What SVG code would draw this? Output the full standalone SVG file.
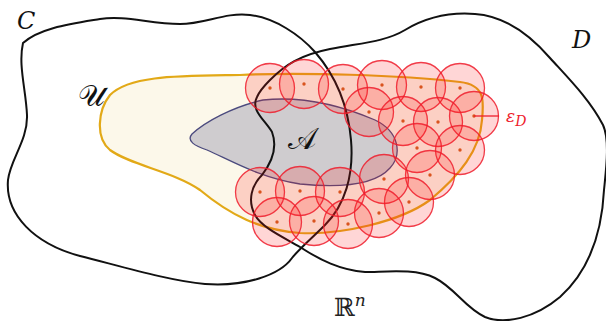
<svg xmlns="http://www.w3.org/2000/svg" width="606" height="321" viewBox="0 0 606 321">
<style>
.ball{fill:#ff1a1a;fill-opacity:0.18;stroke:#ee1c2c;stroke-opacity:0.85;stroke-width:1.3}
.dot{fill:#d9541e}
.set{fill:none;stroke:#111;stroke-width:2}
.lbl{font-family:"DejaVu Serif","Liberation Serif",serif;font-style:italic;fill:#111}
.scr{font-family:"DejaVu Serif","Noto Sans",serif;fill:#111}
</style>
<rect width="606" height="321" fill="#fff"/>
<g id="U">
<path d="M240,75 C300,72 400,75 460,82 C485,85 484,100 482,120 C480,150 460,175 430,200 C400,222 340,235 300,233 C260,230 230,215 200,190 C175,172 130,165 110,150 C95,138 98,110 110,95 C130,75 180,76 240,75 Z" fill="#fcf8ea" stroke="#e2a917" stroke-width="2.2"/>
</g>
<g id="A">
<path d="M192,134 C205,122 232,107 263,100 C300,96 340,105 375,120 C400,132 402,155 390,168 C375,185 340,188 300,184 C260,178 230,160 207,150 C195,146 186,141 192,134 Z" fill="#cfcccf" stroke="#4b4a7e" stroke-width="1.3"/>
</g>
<g id="C">
<path class="set" d="M23,43 C40,28 70,24 100,19 C125,15 150,24 180,24 C205,24 225,12 250,15 C275,18 300,35 315,52 C335,75 348,105 351,140 C354,175 345,205 325,225 C310,240 300,248 292,258 C280,275 245,287 205,284 C170,281 120,266 80,256 C35,244 5,215 8,180 C10,160 28,140 27,115 C26,90 18,65 23,43 Z"/>
</g>
<g id="D">
<path class="set" d="M270,80 C285,65 300,55 330,49 C360,43 385,42 405,30 C425,18 450,12 475,14 C505,16 530,35 550,58 C570,80 590,100 603,125 C610,140 606,170 604,190 C602,230 590,270 560,297 C535,318 505,325 485,317 C465,308 455,288 435,278 C415,268 385,272 365,272 C340,270 320,260 300,247 C285,238 262,228 255,215 C247,200 252,185 262,175 C272,162 278,148 272,132 C265,120 250,110 257,97 C260,90 265,85 270,80 Z"/>
</g>
<g id="cover">
<g class="balls">
<circle class="ball" cx="270" cy="88" r="24.5"/>
<circle class="ball" cx="304" cy="84" r="24.5"/>
<circle class="ball" cx="343" cy="89" r="24.5"/>
<circle class="ball" cx="382" cy="85" r="24.5"/>
<circle class="ball" cx="421" cy="87" r="24.5"/>
<circle class="ball" cx="460" cy="88" r="24.5"/>
<circle class="ball" cx="369" cy="112" r="24.5"/>
<circle class="ball" cx="403" cy="121" r="24.5"/>
<circle class="ball" cx="438" cy="122" r="24.5"/>
<circle class="ball" cx="474" cy="116" r="24.5"/>
<circle class="ball" cx="417" cy="148" r="24.5"/>
<circle class="ball" cx="460" cy="150" r="24.5"/>
<circle class="ball" cx="430" cy="175" r="24.5"/>
<circle class="ball" cx="409" cy="202" r="24.5"/>
<circle class="ball" cx="384" cy="179" r="24.5"/>
<circle class="ball" cx="379" cy="213" r="24.5"/>
<circle class="ball" cx="348" cy="224" r="24.5"/>
<circle class="ball" cx="340" cy="192" r="24.5"/>
<circle class="ball" cx="314" cy="221" r="24.5"/>
<circle class="ball" cx="300" cy="191" r="24.5"/>
<circle class="ball" cx="277" cy="222" r="24.5"/>
<circle class="ball" cx="260" cy="192" r="24.5"/>
</g>
<g class="dots">
<circle class="dot" cx="270" cy="88" r="1.7"/>
<circle class="dot" cx="304" cy="84" r="1.7"/>
<circle class="dot" cx="343" cy="89" r="1.7"/>
<circle class="dot" cx="382" cy="85" r="1.7"/>
<circle class="dot" cx="421" cy="87" r="1.7"/>
<circle class="dot" cx="460" cy="88" r="1.7"/>
<circle class="dot" cx="369" cy="112" r="1.7"/>
<circle class="dot" cx="403" cy="121" r="1.7"/>
<circle class="dot" cx="438" cy="122" r="1.7"/>
<circle class="dot" cx="474" cy="116" r="1.7"/>
<circle class="dot" cx="417" cy="148" r="1.7"/>
<circle class="dot" cx="460" cy="150" r="1.7"/>
<circle class="dot" cx="430" cy="175" r="1.7"/>
<circle class="dot" cx="409" cy="202" r="1.7"/>
<circle class="dot" cx="384" cy="179" r="1.7"/>
<circle class="dot" cx="379" cy="213" r="1.7"/>
<circle class="dot" cx="348" cy="224" r="1.7"/>
<circle class="dot" cx="340" cy="192" r="1.7"/>
<circle class="dot" cx="314" cy="221" r="1.7"/>
<circle class="dot" cx="300" cy="191" r="1.7"/>
<circle class="dot" cx="277" cy="222" r="1.7"/>
<circle class="dot" cx="260" cy="192" r="1.7"/>
</g>
</g>
<g id="connectors">
<line x1="474" y1="116" x2="499" y2="116" stroke="#ee1c2c" stroke-width="1.3"/>
</g>
<g id="labels">
<text class="lbl" x="17" y="29" font-size="24">C</text>
<text class="lbl" x="572" y="48" font-size="24">D</text>
<text class="scr" x="78" y="106" font-size="30">𝒰</text>
<text class="scr" x="288" y="149" font-size="30">𝒜</text>
<text x="334" y="316" font-family="DejaVu Serif,serif" font-size="25" fill="#222">ℝ<tspan font-style="italic" font-size="17" dy="-10">n</tspan></text>
<text x="506" y="122" font-family="DejaVu Serif,serif" font-style="italic" font-size="17" fill="#ee1c2c">ε<tspan font-size="14" dy="4">D</tspan></text>
</g>
</svg>
